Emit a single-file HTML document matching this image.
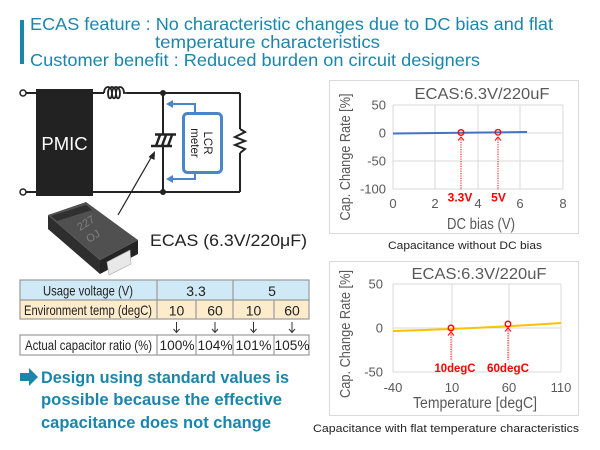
<!DOCTYPE html>
<html>
<head>
<meta charset="utf-8">
<style>
  html,body{margin:0;padding:0;background:#fff;}
  svg{display:block;}
  text{font-family:"Liberation Sans",sans-serif;}
</style>
</head>
<body>
<svg width="600" height="450" viewBox="0 0 600 450" xmlns="http://www.w3.org/2000/svg">
  <rect x="0" y="0" width="600" height="450" fill="#fff"/>

  <!-- Heading -->
  <rect x="20" y="20" width="4" height="44" fill="#1a86ab"/>
  <g fill="#1a86ab" font-size="17.5">
    <text x="30" y="30" textLength="523" lengthAdjust="spacingAndGlyphs">ECAS feature : No characteristic changes due to DC bias and flat</text>
    <text x="155" y="48" textLength="225" lengthAdjust="spacingAndGlyphs">temperature characteristics</text>
    <text x="30" y="66" textLength="450" lengthAdjust="spacingAndGlyphs">Customer benefit : Reduced burden on circuit designers</text>
  </g>

  <!-- Circuit -->
  <g stroke="#222" stroke-width="2" fill="none">
    <line x1="26" y1="93" x2="36" y2="93"/>
    <line x1="93" y1="93" x2="104" y2="93"/>
    <line x1="127" y1="93" x2="240" y2="93"/>
    <path d="M104,93 C104,85 112,85 112,93 C112,100 108,100 108,93 C108,85 116,85 116,93 C116,100 112,100 112,93 C112,85 120,85 120,93 C120,100 116,100 116,93 C116,85 124,85 124,93 L127,93" stroke-width="1.8"/>
    <line x1="26" y1="192" x2="36" y2="192"/>
    <line x1="93" y1="192" x2="240" y2="192"/>
    <line x1="240" y1="93" x2="240" y2="129"/>
    <polyline points="240,129 245,132 235,137 245,141 235,145 245,149 240,153"/>
    <line x1="240" y1="153" x2="240" y2="192"/>
    <line x1="163" y1="93" x2="163" y2="134"/>
    <line x1="163" y1="146" x2="163" y2="192"/>
  </g>
  <circle cx="23" cy="93" r="3" fill="#fff" stroke="#222" stroke-width="1.5"/>
  <circle cx="23" cy="192" r="3" fill="#fff" stroke="#222" stroke-width="1.5"/>
  <circle cx="163" cy="93" r="3" fill="#222"/>
  <circle cx="163" cy="192" r="3" fill="#222"/>
  <g stroke="#222" stroke-width="2.5" fill="none">
    <line x1="155" y1="134.5" x2="176" y2="134.5"/>
    <line x1="151" y1="146" x2="172" y2="146"/>
    <line x1="160" y1="135" x2="156" y2="146"/>
    <line x1="166" y1="135" x2="162" y2="146"/>
    <line x1="172" y1="135" x2="168" y2="146"/>
  </g>
  <rect x="36" y="89" width="57" height="107" fill="#222"/>
  <text x="64.5" y="150" font-size="18.5" fill="#fff" text-anchor="middle">PMIC</text>

  <!-- LCR meter -->
  <g stroke="#4a86c8" stroke-width="2" fill="none">
    <polyline points="195,114 195,104 172,104"/>
    <polyline points="195,172 195,179 172,179"/>
  </g>
  <polygon points="166,104 173,100 173,108" fill="#4a86c8"/>
  <polygon points="166,179 173,175 173,183" fill="#4a86c8"/>
  <rect x="183.5" y="113.5" width="38" height="59" rx="4" ry="4" fill="#fff" stroke="#4a86c8" stroke-width="3"/>
  <g font-size="11.5" fill="#222">
    <text transform="translate(204,143) rotate(90)" text-anchor="middle">LCR</text>
    <text transform="translate(191,143) rotate(90)" text-anchor="middle">meter</text>
  </g>

  <!-- pointer arrow -->
  <line x1="118" y1="215" x2="152" y2="156" stroke="#222" stroke-width="1.2"/>
  <polygon points="155,151 154.5,160 148.5,157" fill="#222"/>

  <!-- capacitor photo -->
  <polygon points="48,215 48,229 100,274 100,260" fill="#2e2e2e"/>
  <polygon points="100,260 138,240 138,254 100,274" fill="#242424"/>
  <polygon points="48,215 86,202 138,240 100,260" fill="#505050"/>
  <polygon points="51,216 86,205 92,210 57,221" fill="#303030"/>
  <polygon points="107,262 130,250 131,264 109,275" fill="#e8e8e8" stroke="#aaa" stroke-width="0.6"/>
  <g fill="#808080" font-size="11">
    <text transform="translate(80,231) rotate(-32)">227</text>
    <text transform="translate(89,243) rotate(-32)">OJ</text>
  </g>

  <text x="150" y="246" font-size="17" fill="#222" textLength="157" lengthAdjust="spacingAndGlyphs">ECAS (6.3V/220μF)</text>

  <!-- Table -->
  <rect x="20" y="280" width="289" height="20" fill="#cfeaf6"/>
  <rect x="20" y="300" width="289" height="19" fill="#fdeccb"/>
  <g stroke="#9a9a9a" stroke-width="1.2" fill="none">
    <rect x="20" y="280" width="289" height="39"/>
    <line x1="20" y1="300" x2="309" y2="300"/>
    <line x1="157" y1="280" x2="157" y2="319"/>
    <line x1="233" y1="280" x2="233" y2="319"/>
    <line x1="196" y1="300" x2="196" y2="319"/>
    <line x1="274" y1="300" x2="274" y2="319"/>
    <rect x="20" y="335" width="289" height="20"/>
    <line x1="157" y1="335" x2="157" y2="355"/>
    <line x1="196" y1="335" x2="196" y2="355"/>
    <line x1="233" y1="335" x2="233" y2="355"/>
    <line x1="274" y1="335" x2="274" y2="355"/>
  </g>
  <g fill="#222" font-size="14">
    <text x="43" y="295.5" textLength="90" lengthAdjust="spacingAndGlyphs">Usage voltage (V)</text>
    <text x="24" y="315" textLength="128" lengthAdjust="spacingAndGlyphs">Environment temp (degC)</text>
    <text x="25" y="350" textLength="127" lengthAdjust="spacingAndGlyphs">Actual capacitor ratio (%)</text>
    <text x="196" y="296" text-anchor="middle">3.3</text>
    <text x="272" y="296" text-anchor="middle">5</text>
    <text x="176.5" y="315.5" text-anchor="middle">10</text>
    <text x="215" y="315.5" text-anchor="middle">60</text>
    <text x="253.5" y="315.5" text-anchor="middle">10</text>
    <text x="292" y="315.5" text-anchor="middle">60</text>
    <text x="177" y="350" text-anchor="middle" textLength="35" lengthAdjust="spacingAndGlyphs">100%</text>
    <text x="215" y="350" text-anchor="middle" textLength="35" lengthAdjust="spacingAndGlyphs">104%</text>
    <text x="253.5" y="350" text-anchor="middle" textLength="36" lengthAdjust="spacingAndGlyphs">101%</text>
    <text x="292" y="350" text-anchor="middle" textLength="35" lengthAdjust="spacingAndGlyphs">105%</text>
  </g>
  <g stroke="#333" stroke-width="1" fill="none">
    <line x1="176.5" y1="322" x2="176.5" y2="332"/>
    <polyline points="173.5,329 176.5,332.5 179.5,329"/>
    <line x1="215" y1="322" x2="215" y2="332"/>
    <polyline points="212,329 215,332.5 218,329"/>
    <line x1="253.5" y1="322" x2="253.5" y2="332"/>
    <polyline points="250.5,329 253.5,332.5 256.5,329"/>
    <line x1="292" y1="322" x2="292" y2="332"/>
    <polyline points="289,329 292,332.5 295,329"/>
  </g>

  <!-- Bottom message -->
  <polygon points="20,373 29,373 29,368 38,377 29,386 29,381 20,381" fill="#1a86ab"/>
  <g fill="#1a86ab" font-size="17" font-weight="bold">
    <text x="41" y="383" textLength="248" lengthAdjust="spacingAndGlyphs">Design using standard values is</text>
    <text x="41" y="405" textLength="241" lengthAdjust="spacingAndGlyphs">possible because the effective</text>
    <text x="41" y="428" textLength="230" lengthAdjust="spacingAndGlyphs">capacitance does not change</text>
  </g>

  <!-- ===== Chart 1 ===== -->
  <rect x="329.5" y="80.5" width="249" height="153" fill="#fff" stroke="#d9d9d9" stroke-width="1"/>
  <g stroke="#d9d9d9" stroke-width="1">
    <line x1="393" y1="105" x2="563" y2="105"/>
    <line x1="393" y1="133" x2="563" y2="133"/>
    <line x1="393" y1="161" x2="563" y2="161"/>
    <line x1="393" y1="189" x2="563" y2="189"/>
    <line x1="393" y1="105" x2="393" y2="189"/>
    <line x1="435" y1="105" x2="435" y2="189"/>
    <line x1="478" y1="105" x2="478" y2="189"/>
    <line x1="520" y1="105" x2="520" y2="189"/>
    <line x1="563" y1="105" x2="563" y2="189"/>
  </g>
  <g fill="#595959" font-size="13">
    <g text-anchor="end">
      <text x="386" y="109.5">50</text>
      <text x="386" y="137.5">0</text>
      <text x="386" y="165.5">-50</text>
      <text x="386" y="193.5">-100</text>
    </g>
    <g text-anchor="middle">
      <text x="393" y="208">0</text>
      <text x="435" y="208">2</text>
      <text x="478" y="208">4</text>
      <text x="520" y="208">6</text>
      <text x="563" y="208">8</text>
    </g>
  </g>
  <text x="482" y="99" font-size="16" fill="#595959" text-anchor="middle" textLength="135" lengthAdjust="spacingAndGlyphs">ECAS:6.3V/220uF</text>
  <text transform="translate(350,157) rotate(-90)" font-size="14.5" fill="#595959" text-anchor="middle" textLength="127" lengthAdjust="spacingAndGlyphs">Cap. Change Rate [%]</text>
  <text x="481" y="229" font-size="15.5" fill="#595959" text-anchor="middle" textLength="68" lengthAdjust="spacingAndGlyphs">DC bias (V)</text>
  <line x1="393" y1="133.5" x2="527" y2="132" stroke="#4472c4" stroke-width="2"/>
  <g stroke="#ff0000" fill="none">
    <circle cx="461" cy="132.5" r="2.8" stroke-width="1.3"/>
    <circle cx="498" cy="132.3" r="2.8" stroke-width="1.3"/>
    <line x1="461" y1="137" x2="461" y2="190" stroke-width="1" stroke-dasharray="1.2,1.2"/>
    <line x1="498" y1="137" x2="498" y2="190" stroke-width="1" stroke-dasharray="1.2,1.2"/>
    <polyline points="458,140.5 461,137 464,140.5" stroke-width="1"/>
    <polyline points="495,140.5 498,137 501,140.5" stroke-width="1"/>
  </g>
  <g fill="#ff0000" font-size="12" font-weight="bold" text-anchor="middle">
    <text x="460" y="201.5">3.3V</text>
    <text x="498.5" y="201.5">5V</text>
  </g>
  <text x="465" y="249" font-size="11" fill="#222" text-anchor="middle" textLength="154" lengthAdjust="spacingAndGlyphs">Capacitance without DC bias</text>

  <!-- ===== Chart 2 ===== -->
  <rect x="329.5" y="261.5" width="249" height="154" fill="#fff" stroke="#d9d9d9" stroke-width="1"/>
  <g stroke="#d9d9d9" stroke-width="1">
    <line x1="393" y1="284" x2="561" y2="284"/>
    <line x1="393" y1="328" x2="561" y2="328"/>
    <line x1="393" y1="372" x2="561" y2="372"/>
    <line x1="393" y1="284" x2="393" y2="372"/>
    <line x1="452" y1="284" x2="452" y2="372"/>
    <line x1="509" y1="284" x2="509" y2="372"/>
    <line x1="561" y1="284" x2="561" y2="372"/>
  </g>
  <g fill="#595959" font-size="13">
    <g text-anchor="end">
      <text x="383" y="288.5">50</text>
      <text x="383" y="332.5">0</text>
      <text x="383" y="376.5">-50</text>
    </g>
    <g text-anchor="middle">
      <text x="393" y="392">-40</text>
      <text x="452" y="392">10</text>
      <text x="509" y="392">60</text>
      <text x="561" y="392">110</text>
    </g>
  </g>
  <text x="479" y="279" font-size="16" fill="#595959" text-anchor="middle" textLength="135" lengthAdjust="spacingAndGlyphs">ECAS:6.3V/220uF</text>
  <text transform="translate(350,334) rotate(-90)" font-size="14.5" fill="#595959" text-anchor="middle" textLength="128" lengthAdjust="spacingAndGlyphs">Cap. Change Rate [%]</text>
  <text x="475" y="408" font-size="15.5" fill="#595959" text-anchor="middle" textLength="124" lengthAdjust="spacingAndGlyphs">Temperature [degC]</text>
  <path d="M393,331 Q470,329 561,323" stroke="#ffc000" stroke-width="2" fill="none"/>
  <g stroke="#ff0000" fill="none">
    <circle cx="451" cy="328" r="2.8" stroke-width="1.3"/>
    <circle cx="508" cy="324" r="2.8" stroke-width="1.3"/>
    <line x1="451" y1="332" x2="451" y2="360" stroke-width="1" stroke-dasharray="1.2,1.2"/>
    <line x1="508" y1="328" x2="508" y2="360" stroke-width="1" stroke-dasharray="1.2,1.2"/>
    <polyline points="448,335.5 451,332 454,335.5" stroke-width="1"/>
    <polyline points="505,331.5 508,328 511,331.5" stroke-width="1"/>
  </g>
  <g fill="#ff0000" font-size="12" font-weight="bold" text-anchor="middle">
    <text x="455" y="372" textLength="41" lengthAdjust="spacingAndGlyphs">10degC</text>
    <text x="508" y="372" textLength="42" lengthAdjust="spacingAndGlyphs">60degC</text>
  </g>
  <text x="446" y="432" font-size="11" fill="#222" text-anchor="middle" textLength="266" lengthAdjust="spacingAndGlyphs">Capacitance with flat temperature characteristics</text>
</svg>
</body>
</html>
